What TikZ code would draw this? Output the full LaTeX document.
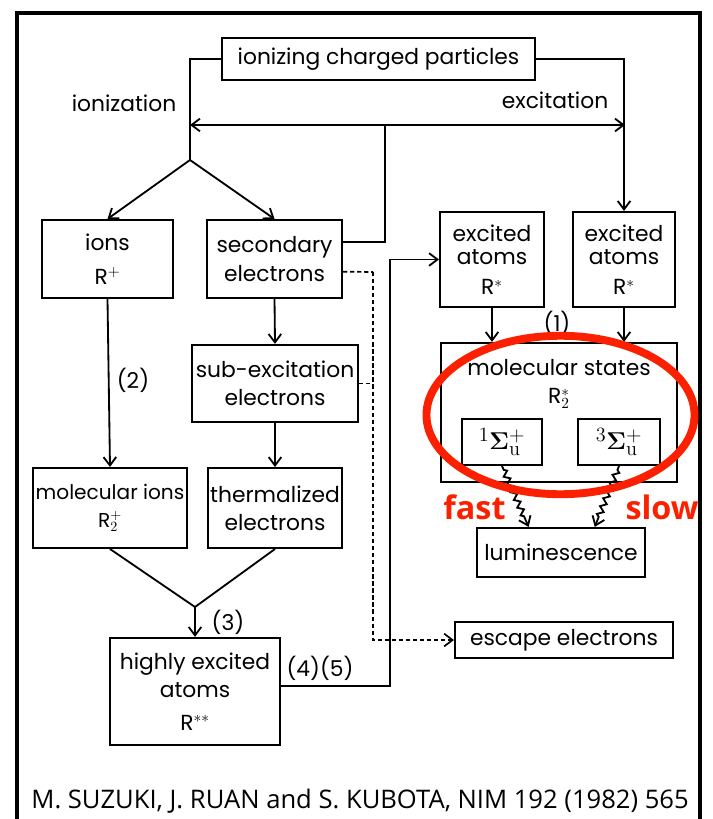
\documentclass[tikz,border=0pt]{standalone}
\usepackage[no-math]{fontspec}
\setmainfont{Poppins}
\newfontfamily\citefont{Open Sans}
\usepackage{tikz}
\usetikzlibrary{arrows.meta, positioning, calc, decorations.pathmorphing}
\definecolor{markred}{RGB}{250, 32, 0}
\newcommand{\diagfont}{\fontsize{15.5}{20}\selectfont}

\tikzset{
  box/.style={draw, line width=1.4pt, inner sep=1pt, align=center, font=\diagfont},
  flow/.style={line width=1.3pt, -{Straight Barb[length=6pt, width=9pt]}},
  wire/.style={line width=1.3pt},
  dashwire/.style={line width=1.2pt, dash pattern=on 3pt off 2pt},
  wavy/.style={flow, decorate, decoration={zigzag, amplitude=2pt, segment length=6pt, pre length=3pt, post length=6pt}},
  tag/.style={font=\diagfont},
  termbox/.style={box, minimum height=1.15cm, font=\fontsize{19}{21}\selectfont}
}

\begin{document}
\begin{tikzpicture}[x=0.025cm, y=-0.025cm]
  \useasboundingbox (0,0) rectangle (712,819);

  % Frame
  \draw[line width=2.2pt] (17,819) -- (17,13) -- (700,13) -- (700,819);

  % Source
  \node[box, minimum width=7.83cm, minimum height=1.05cm] (src) at (378.5,59) {ionizing charged particles};
  \node[tag] (ionlab) at (124,103) {ionization};
  \node[tag] (exclab) at (555,100) {excitation};
  \coordinate (split) at (190,160);
  \coordinate (ionend) at (190,125);
  \coordinate (excend) at (625,125);
  \coordinate (branch) at (385,125);

  % Ionization branch
  \node[box, minimum width=3.28cm, minimum height=1.95cm] (ions) at (107.5,259) {ions\\[4pt]R$^{+}$};
  \node[box, minimum width=3.38cm, minimum height=1.95cm] (secel) at (274.5,259) {secondary\\electrons};
  \node[box, minimum width=4.15cm, minimum height=1.93cm] (subexc) at (275,383.5) {sub-excitation\\electrons};
  \node[box, minimum width=3.85cm, minimum height=2.0cm, font=\fontsize{14.3}{20}\selectfont] (molion) at (110,508) {molecular ions\\R$_2^{+}$};
  \node[box, minimum width=3.35cm, minimum height=2.0cm] (therm) at (275,508) {thermalized\\electrons};
  \node[box, minimum width=4.25cm, minimum height=2.68cm] (hiexc) at (195,691.5) {highly excited\\atoms\\[3pt]R$^{\ast\ast}$};
  \coordinate (merge) at (195,607);

  % Excitation branch
  \node[box, minimum width=2.6cm, minimum height=2.38cm, font=\fontsize{15.5}{17}\selectfont] (exatomL) at (492,259.5) {excited\\atoms\\[4pt]R$^{\ast}$};
  \node[box, minimum width=2.55cm, minimum height=2.38cm, font=\fontsize{15.5}{17}\selectfont] (exatomR) at (624,259.5) {excited\\atoms\\[4pt]R$^{\ast}$};
  \node[box, minimum width=5.9cm, minimum height=3.48cm] (molstate) at (559,412.5) {};
  \node[tag, align=center, below=9pt of molstate.north] (mollab) {molecular states\\R$_2^{\ast}$};
  \node[termbox, minimum width=2.0cm] (singlet) at (502,442) {$^{1}\mathbf{\Sigma}_{\mathrm{u}}^{+}$};
  \node[termbox, minimum width=2.05cm] (triplet) at (619,442) {$^{3}\mathbf{\Sigma}_{\mathrm{u}}^{+}$};
  \node[box, minimum width=4.2cm, minimum height=1.23cm] (lumin) at (561,552.5) {luminescence};
  \node[box, minimum width=5.45cm, minimum height=0.9cm] (escape) at (564,640) {escape electrons};

  % Connectors from the source
  \draw[wire] (src.west) -| (split);
  \draw[flow] (src.east) -| (exatomR.north);
  \draw[line width=1.3pt, {Straight Barb[length=6pt, width=9pt]}-{Straight Barb[length=6pt, width=9pt]}] (ionend) -- (excend);
  \draw[wire] (branch) |- ([yshift=12pt]secel.east);
  \draw[flow] (split) -- (ions.north);
  \draw[flow] (split) -- (secel.north);

  % Down the ionization side
  \draw[flow] (secel.south) -- (subexc.north);
  \draw[flow] (subexc.south) -- (therm.north);
  \draw[flow] (ions.south) -- (molion.north);
  \node[tag] (lab2) at (133,380) {(2)};
  \draw[wire] (molion.south) -- (merge);
  \draw[wire] (therm.south) -- (merge);
  \draw[flow] (merge) -- (hiexc.north);
  \node[tag] (lab3) at (228,622) {(3)};
  \draw[flow] ([yshift=4pt]hiexc.east) -| ([xshift=-35pt]exatomL.west) -- (exatomL.west);
  \node[tag] (lab45) at (320,668) {(4)(5)};

  % Escaping electrons
  \coordinate (drop) at (373,272);
  \draw[dashwire] ([yshift=-9pt]secel.east) -- (drop);
  \draw[dashwire, -{Straight Barb[length=6pt, width=9pt]}] (drop) |- (escape.west);
  \draw[dashwire] (subexc.east) -- (subexc.east -| drop);

  % Excited atoms to molecular states
  \draw[flow] (exatomL.south) -- (exatomL.south |- molstate.north);
  \draw[flow] (exatomR.south) -- (exatomR.south |- molstate.north);
  \node[tag] (lab1) at (557,323) {(1)};

  % Decay to luminescence
  \draw[wavy] (singlet.south) -- ([xshift=-23pt]lumin.north);
  \draw[wavy] (triplet.south) -- ([xshift=24pt]lumin.north);

  % Highlight
  \draw[markred, line width=5.6pt] (560.5,415) ellipse [x radius=3.35cm, y radius=1.98cm];
  \node[markred, font=\citefont\bfseries\fontsize{23}{26}\selectfont] (fastlab) at (474.5,507) {fast};
  \node[markred, font=\citefont\bfseries\fontsize{23}{26}\selectfont] (slowlab) at (662,507) {slow};

  % Reference
  \node[font=\citefont\fontsize{18.2}{22}\selectfont] (cite) at (360,801) {M. SUZUKI, J. RUAN and S. KUBOTA, NIM 192 (1982) 565};
\end{tikzpicture}
\end{document}
